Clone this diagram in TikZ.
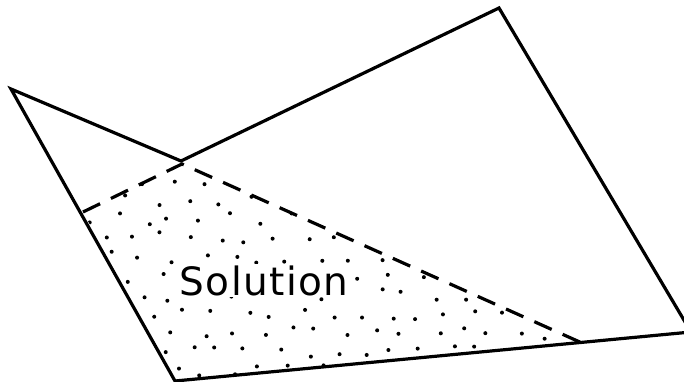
\documentclass[tikz,border=0pt]{standalone}
\usepackage{fontspec}
\newfontfamily\lettering[LetterSpace=3.5]{DejaVu Sans}
\usetikzlibrary{calc}

\begin{document}
\begin{tikzpicture}[
    x=1pt, y=-1pt,
    edge/.style={line width=3.2pt, line join=miter},
    bound/.style={line width=3.2pt, dash pattern=on 19pt off 12pt},
    speck/.style={fill=black},
    regiontext/.style={font=\lettering\fontsize{39}{41}\selectfont, inner sep=0pt}
]
\clip (0,0) rectangle (684,382);
% corners of the outer region
\coordinate (tl) at (11,89);
\coordinate (notch) at (181,161);
\coordinate (top) at (499,8);
\coordinate (right) at (691,332);
\coordinate (bl) at (175,381);
% dashed cut
\coordinate (cutL) at (83,212);
\coordinate (apex) at (182,164);
\coordinate (cutR) at (582,343);

% dotted solution region
\begin{scope}
\clip (cutL) -- (apex) -- (cutR) -- (bl) -- cycle;
\pgfmathsetseed{11}
\foreach \row in {0,...,11} {
  \foreach \col in {0,...,18} {
    \pgfmathsetmacro\px{72+\col*29+mod(\row,2)*14+rand*7}
    \pgfmathsetmacro\py{162+\row*19+rand*6}
    \fill[speck] (\px,\py) circle (2pt);
  }
}
\end{scope}

\draw[edge] (tl) -- (notch) -- (top) -- (right) -- (bl) -- cycle;
\draw[bound] (cutL) -- (apex) -- (cutR);

\node[regiontext, anchor=base, fill=white, inner sep=1pt] (sol) at (264,295) {Solution};
\end{tikzpicture}
\end{document}
